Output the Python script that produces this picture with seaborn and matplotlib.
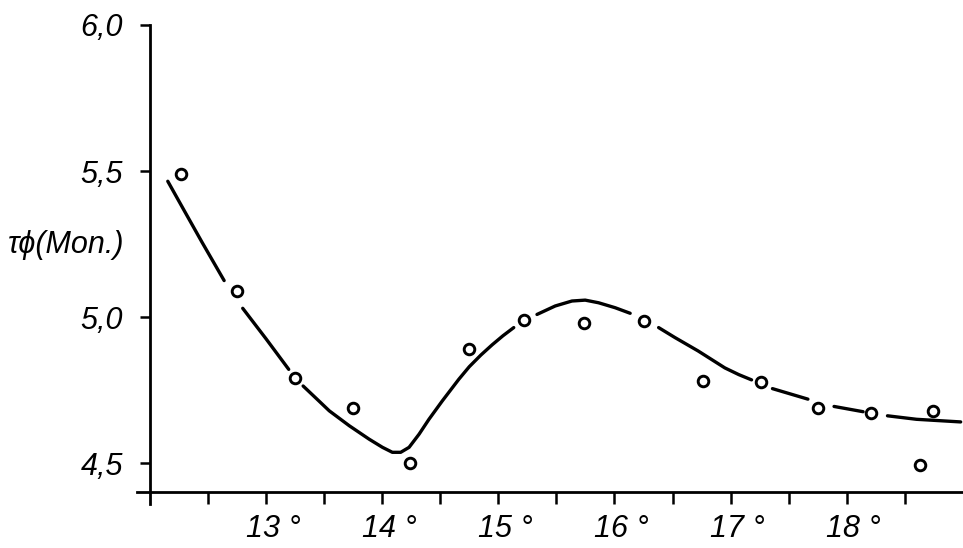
import numpy as np
import pandas as pd
import matplotlib
matplotlib.use("Agg")
import matplotlib.pyplot as plt
import matplotlib.transforms as mtransforms
import seaborn as sns

# measured points (temperature in degrees, tau_phi in months)
pt_x = [12.27, 12.75, 13.25, 13.75, 14.24, 14.75, 15.22, 15.74, 16.25,
        16.76, 17.26, 17.75, 18.21, 18.74, 18.63]
pt_y = [5.49, 5.09, 4.79, 4.69, 4.50, 4.89, 4.99, 4.98, 4.985,
        4.78, 4.776, 4.69, 4.673, 4.68, 4.493]

# hand-drawn fitted curve, broken into segments
curve_seg = [0, 0, 0, 0,
             1, 1, 1,
             2, 2, 2, 2, 2, 2, 2, 2, 2, 2, 2, 2, 2, 2, 2, 2, 2, 2,
             3, 3, 3, 3, 3, 3, 3,
             4, 4, 4, 4, 4, 4, 4,
             5, 5,
             6, 6,
             7, 7, 7]
curve_x = [12.155, 12.30, 12.45, 12.64,
           12.80, 13.00, 13.196,
           13.32, 13.45, 13.545, 13.717, 13.888, 14.003, 14.088, 14.16, 14.232,
           14.318, 14.403, 14.518, 14.66, 14.75, 14.85, 14.947, 15.04, 15.133,
           15.333, 15.49, 15.634, 15.748, 15.863, 16.006, 16.135,
           16.38, 16.52, 16.72, 16.835, 16.95, 17.07, 17.18,
           17.36, 17.665,
           17.89, 18.14,
           18.35, 18.60, 18.98]
curve_y = [5.465, 5.362, 5.256, 5.125,
           5.03, 4.926, 4.821,
           4.764, 4.715, 4.679, 4.628, 4.582, 4.554, 4.537, 4.537, 4.554,
           4.599, 4.650, 4.713, 4.787, 4.830, 4.870, 4.905, 4.936, 4.964,
           5.009, 5.038, 5.055, 5.058, 5.049, 5.032, 5.013,
           4.964, 4.93, 4.884, 4.855, 4.826, 4.803, 4.785,
           4.755, 4.719,
           4.694, 4.676,
           4.662, 4.650, 4.641]

y_ticks = [4.5, 5.0, 5.5, 6.0]
y_tick_labels = ["4,5", "5,0", "5,5", "6,0"]
x_minor_ticks = [12.5, 13.5, 14.5, 15.5, 16.5, 17.5, 18.5]
x_ticks = [13, 14, 15, 16, 17, 18]
x_tick_labels = ["13 °", "14 °", "15 °", "16 °", "17 °", "18 °"]
y_label = "τϕ(Mon.)"

sns.set_style("white")
plt.rcParams["font.family"] = ["Liberation Sans", "DejaVu Sans"]
plt.rcParams["font.style"] = "italic"
plt.rcParams["text.color"] = "black"
plt.rcParams["axes.labelcolor"] = "black"

fig = plt.figure(figsize=(9.63, 5.48), dpi=100)
ax = fig.add_axes([137 / 963, (548 - 504) / 548, 1 - 137 / 963, (504 - 25) / 548])

curve = pd.DataFrame({"x": curve_x, "y": curve_y, "seg": curve_seg})
pts = pd.DataFrame({"x": pt_x, "y": pt_y})

sns.lineplot(data=curve, x="x", y="y", units="seg", estimator=None, sort=False,
             color="black", linewidth=2.4, ax=ax, legend=False,
             solid_capstyle="round", solid_joinstyle="round")
sns.scatterplot(data=pts, x="x", y="y", marker="o", s=58, facecolor="white",
                edgecolor="black", linewidth=2.1, ax=ax, zorder=3, legend=False)

ax.set_xlim(11.89, 19.0)
ax.set_ylim(4.36, 6.0)

for s in ["top", "right"]:
    ax.spines[s].set_visible(False)
ax.spines["left"].set_position(("data", 12.0))
ax.spines["bottom"].set_position(("data", 4.40))
for s in ["left", "bottom"]:
    ax.spines[s].set_linewidth(2.0)
    ax.spines[s].set_color("black")

ax.set_yticks(y_ticks)
ax.set_yticklabels(y_tick_labels)
ax.set_xticks(x_ticks)
ax.set_xticklabels(x_tick_labels)
ax.set_xticks(x_minor_ticks, minor=True)

ax.tick_params(axis="y", which="major", direction="out", length=7.2, width=1.8,
               pad=12, labelsize=22, colors="black", left=True)
ax.tick_params(axis="x", which="both", direction="out", length=8.6, width=1.8,
               pad=7, labelsize=22, colors="black", bottom=True)

offset = mtransforms.ScaledTranslation(7 / 100, 0, fig.dpi_scale_trans)
for lab in ax.get_xticklabels():
    lab.set_transform(lab.get_transform() + offset)

ax.set_xlabel("")
ax.set_ylabel(y_label, rotation=0, fontsize=22, color="black", ha="left", va="center")
ax.yaxis.set_label_coords(-0.156, (5.248 - 4.36) / (6.0 - 4.36))

fig.savefig("out.png", dpi=100)
